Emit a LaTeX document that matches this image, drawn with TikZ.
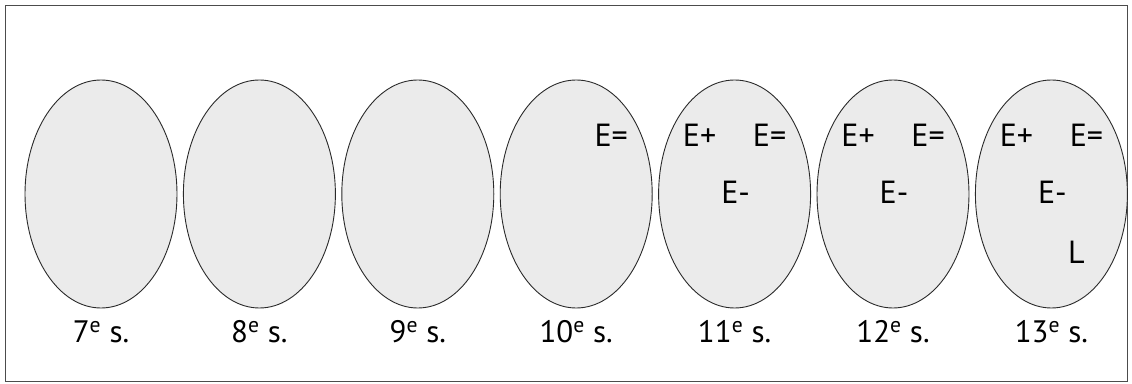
\documentclass[tikz,border=0pt]{standalone}
\usepackage{xcolor}
\usepackage{fontspec}
\setmainfont{PT Sans}
\usepackage{tikz}
\usetikzlibrary{shapes.geometric,positioning}
\definecolor{eggfill}{HTML}{EBEBEB}
\definecolor{eggline}{HTML}{2A2A2A}
\tikzset{
    century/.style={ellipse, draw=eggline, line width=0.9pt, fill=eggfill, minimum width=152pt, minimum height=228pt, inner sep=0pt},
    caption/.style={anchor=base, font=\fontsize{31}{31}\selectfont, inner sep=0pt},
    letter/.style={anchor=base, font=\fontsize{32}{32}\selectfont, inner sep=0pt},
    frame/.style={draw=black!70, line width=0.8pt},
}

\begin{document}
\begin{tikzpicture}[x=1pt, y=1pt, node distance=5.5pt]
    \useasboundingbox (0,0) rectangle (1132,383);
    \draw[frame] (5,1.5) rectangle (1127,378);

    \node[century] (e7) at (101,189) {};
    \node[century, right=of e7] (e8) {};
    \node[century, right=of e8] (e9) {};
    \node[century, right=of e9] (e10) {};
    \node[century, right=of e10] (e11) {};
    \node[century, right=of e11] (e12) {};
    \node[century, right=of e12] (e13) {};

    \node[caption] (c7) at ([yshift=-148pt]e7) {7\textsuperscript{e} s.};
    \node[caption] (c8) at ([yshift=-148pt]e8) {8\textsuperscript{e} s.};
    \node[caption] (c9) at ([yshift=-148pt]e9) {9\textsuperscript{e} s.};
    \node[caption] (c10) at ([yshift=-148pt]e10) {10\textsuperscript{e} s.};
    \node[caption] (c11) at ([yshift=-148pt]e11) {11\textsuperscript{e} s.};
    \node[caption] (c12) at ([yshift=-148pt]e12) {12\textsuperscript{e} s.};
    \node[caption] (c13) at ([yshift=-148pt]e13) {13\textsuperscript{e} s.};

    \node[letter] (eq10) at ([shift={(35,47)}]e10) {E=};

    \node[letter] (ep11) at ([shift={(-35,47)}]e11) {E+};
    \node[letter] (eq11) at ([shift={(35,47)}]e11) {E=};
    \node[letter] (em11) at ([shift={(1,-10)}]e11) {E-};

    \node[letter] (ep12) at ([shift={(-35,47)}]e12) {E+};
    \node[letter] (eq12) at ([shift={(35,47)}]e12) {E=};
    \node[letter] (em12) at ([shift={(1,-10)}]e12) {E-};

    \node[letter] (ep13) at ([shift={(-35,47)}]e13) {E+};
    \node[letter] (eq13) at ([shift={(35,47)}]e13) {E=};
    \node[letter] (em13) at ([shift={(1,-10)}]e13) {E-};
    \node[letter] (l13) at ([shift={(25,-70)}]e13) {L};
\end{tikzpicture}
\end{document}
